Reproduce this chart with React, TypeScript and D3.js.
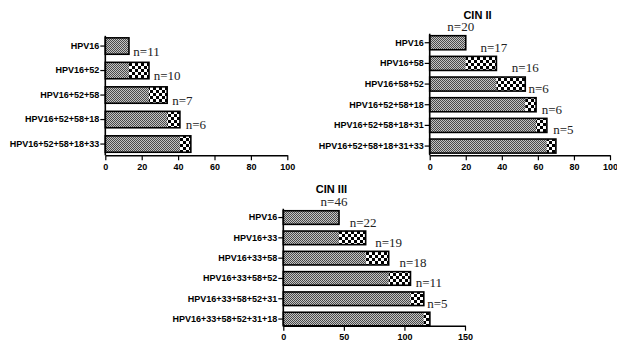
import React, { useEffect, useRef } from "react";
import * as d3 from "d3";

// CIN I (no title shown in the picture)
const cin1Combos = ["HPV16", "HPV16+52", "HPV16+52+58", "HPV16+52+58+18", "HPV16+52+58+18+33"];
const cin1Totals = [13, 24, 34, 41, 47];
const cin1Counts = [null, 11, 10, 7, 6];

// CIN II
const cin2Combos = ["HPV16", "HPV16+58", "HPV16+58+52", "HPV16+52+58+18", "HPV16+52+58+18+31", "HPV16+52+58+18+31+33"];
const cin2Totals = [20, 37, 53, 59, 65, 70];
const cin2Counts = [20, 17, 16, 6, 6, 5];

// CIN III
const cin3Combos = ["HPV16", "HPV16+33", "HPV16+33+58", "HPV16+33+58+52", "HPV16+33+58+52+31", "HPV16+33+58+52+31+18"];
const cin3Totals = [46, 68, 87, 105, 116, 121];
const cin3Counts = [46, 22, 19, 18, 11, 5];

const ticks100 = [0, 20, 40, 60, 80, 100];
const ticks150 = [0, 50, 100, 150];

type PanelProps = {
  title?: string;
  combos: string[];
  totals: number[];
  counts: (number | null)[];
  xMax: number;
  xTicks: number[];
  left: number;
  right: number;
  rowTop: number;
  rowBottom: number;
  pad: number;
  axisY: number;
};

const Panel = (p: PanelProps) => {
  const gRef = useRef<SVGGElement>(null);

  const x = d3.scaleLinear().domain([0, p.xMax]).range([p.left, p.right]);
  const y = d3.scaleBand<string>()
    .domain(p.combos)
    .range([p.rowTop, p.rowBottom])
    .paddingInner(p.pad)
    .paddingOuter(p.pad / 2);
  const step = y.step();

  useEffect(() => {
    const g = d3.select(gRef.current);
    g.selectAll("*").remove();

    const xa = g.append("g")
      .attr("transform", `translate(0,${p.axisY})`)
      .call(d3.axisBottom(x).tickValues(p.xTicks).tickSize(5).tickSizeOuter(0).tickPadding(3).tickFormat(d3.format("d")));
    xa.select(".domain").attr("stroke-width", 1.6);

    const ya = g.append("g")
      .attr("transform", `translate(${p.left},0)`)
      .call(d3.axisLeft(y).tickSize(5).tickPadding(1));
    ya.select(".domain").remove();

    g.append("line")
      .attr("x1", p.left).attr("x2", p.left)
      .attr("y1", (y(p.combos[0]) ?? 0) - 2).attr("y2", p.axisY)
      .attr("stroke", "#000").attr("stroke-width", 1.6);

    g.selectAll(".tick line").attr("stroke-width", 1.2);
    g.selectAll(".tick text")
      .attr("font-family", "Liberation Sans, Arial, sans-serif")
      .attr("font-size", 9)
      .attr("font-weight", "bold")
      .attr("fill", "#000");
  });

  return (
    <g>
      {p.title && (
        <text
          x={p.left + (p.right - p.left) * 0.265}
          y={(y(p.combos[0]) ?? 0) + y.bandwidth() / 2 - 28}
          dy="0.35em"
          textAnchor="middle"
          fontFamily="Liberation Sans, Arial, sans-serif"
          fontWeight="bold"
          fontSize={11}
        >
          {p.title}
        </text>
      )}
      {p.combos.map((c, i) => {
        // the first bar is all "base"; later bars add the new count on top of the previous total
        const prev = i === 0 ? p.totals[0] : p.totals[i - 1];
        const yy = y(c) ?? 0;
        return (
          <g key={c}>
            <rect x={x(0)} y={yy} width={x(prev) - x(0)} height={y.bandwidth()} fill="url(#fine)" />
            {i > 0 && (
              <rect x={x(prev)} y={yy} width={x(p.totals[i]) - x(prev)} height={y.bandwidth()} fill="url(#coarse)" />
            )}
            <rect x={x(0)} y={yy} width={x(p.totals[i]) - x(0)} height={y.bandwidth()} fill="none" stroke="#000" strokeWidth={1.6} />
          </g>
        );
      })}
      {p.combos.map((c, i) =>
        p.counts[i] == null ? null : (
          <text
            key={"n" + c}
            x={x(p.totals[i]) + 2.5 * i - 5}
            y={(y(c) ?? 0) + y.bandwidth() / 2 - 0.78 * step}
            dy="0.35em"
            textAnchor="middle"
            fontFamily="Liberation Serif, Times New Roman, serif"
            fontSize={13}
            fill="#222"
          >
            {"n=" + p.counts[i]}
          </text>
        )
      )}
      <g ref={gRef} />
    </g>
  );
};

export default function App() {
  return (
    <svg width={617} height={346} style={{ position: "absolute", left: 0, top: 0, background: "#fff" }}>
      <defs>
        <pattern id="fine" patternUnits="userSpaceOnUse" width={2} height={2}>
          <rect width={2} height={2} fill="#c4c4c4" />
          <rect width={1} height={1} fill="#4a4a4a" />
          <rect x={1} y={1} width={1} height={1} fill="#4a4a4a" />
        </pattern>
        <pattern id="coarse" patternUnits="userSpaceOnUse" width={6} height={6}>
          <rect width={6} height={6} fill="#fff" />
          <rect width={3} height={3} fill="#000" />
          <rect x={3} y={3} width={3} height={3} fill="#000" />
        </pattern>
      </defs>
      <Panel
        combos={cin1Combos} totals={cin1Totals} counts={cin1Counts}
        xMax={100} xTicks={ticks100}
        left={105.3} right={287.3} rowTop={33.8} rowBottom={156.3} pad={0.33} axisY={155.3}
      />
      <Panel
        title="CIN II"
        combos={cin2Combos} totals={cin2Totals} counts={cin2Counts}
        xMax={100} xTicks={ticks100}
        left={429.7} right={610} rowTop={32.4} rowBottom={156.4} pad={0.32} axisY={155.3}
      />
      <Panel
        title="CIN III"
        combos={cin3Combos} totals={cin3Totals} counts={cin3Counts}
        xMax={150} xTicks={ticks150}
        left={283.3} right={465} rowTop={207.4} rowBottom={329.2} pad={0.33} axisY={325.7}
      />
    </svg>
  );
}
